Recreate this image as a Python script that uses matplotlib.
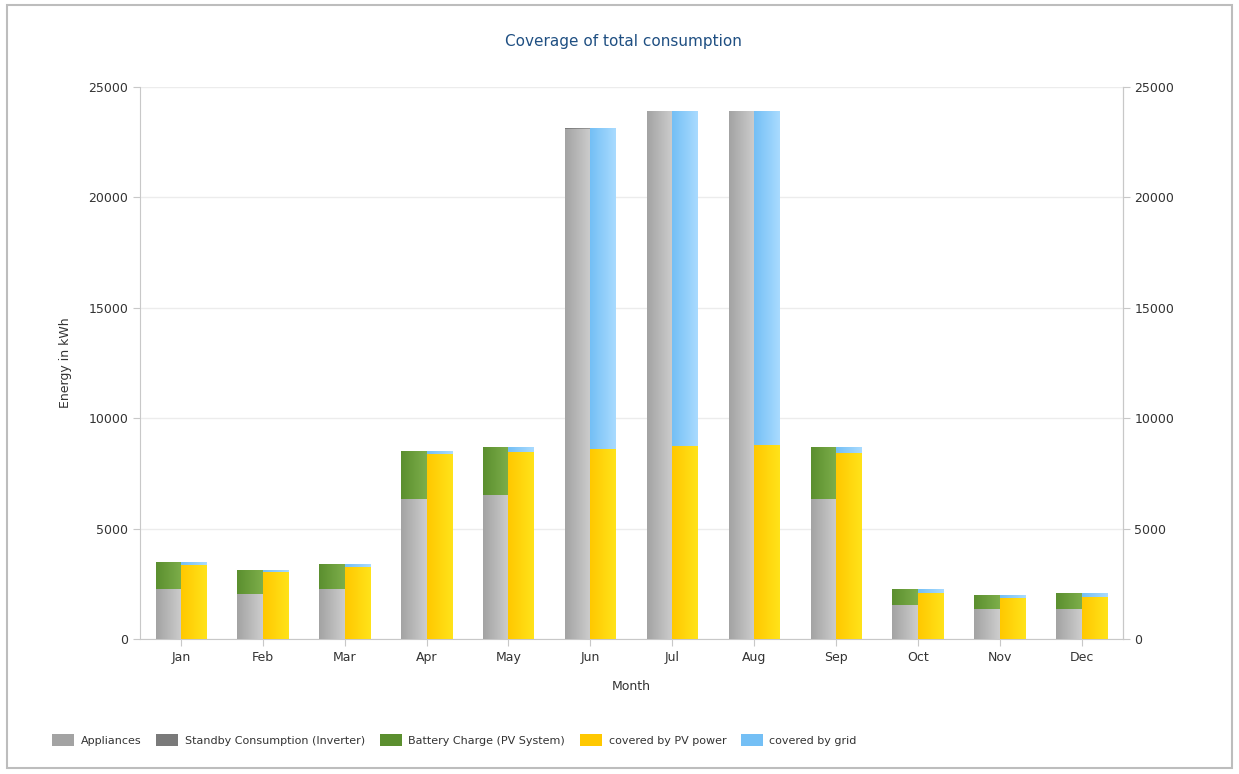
import numpy as np
import matplotlib
matplotlib.use("Agg")
import matplotlib.pyplot as plt
from matplotlib.patches import Rectangle, Patch
from matplotlib.colors import LinearSegmentedColormap

months = ["Jan", "Feb", "Mar", "Apr", "May", "Jun", "Jul", "Aug", "Sep", "Oct", "Nov", "Dec"]

# left bar: consumption
appliances = [2250, 2030, 2250, 6340, 6520, 23120, 23900, 23900, 6340, 1540, 1345, 1360]
standby = [10, 10, 10, 10, 10, 10, 10, 10, 10, 10, 10, 10]
battery_charge = [1240, 1085, 1140, 2180, 2180, 0, 0, 0, 2330, 700, 635, 710]

# right bar: coverage
covered_pv = [3350, 3020, 3275, 8380, 8485, 8605, 8740, 8790, 8410, 2070, 1845, 1915]
covered_grid = [150, 105, 125, 150, 225, 14525, 15170, 15120, 270, 180, 145, 165]

colors = {
    "Appliances": ("#a3a3a3", "#cdcdcd"),
    "Standby Consumption (Inverter)": ("#7a7a7a", "#9a9a9a"),
    "Battery Charge (PV System)": ("#5b8f2f", "#7dae4a"),
    "covered by PV power": ("#ffc800", "#ffe31a"),
    "covered by grid": ("#74bff5", "#a9dbff"),
}

fig = plt.figure(figsize=(12.39, 7.74), dpi=100)
ax = fig.add_axes([0.113, 0.1744, 0.793, 0.7132])

x = np.arange(len(months))
w = 0.31
grad = np.linspace(0, 1, 64).reshape(1, -1)


def grad_bar(ax, xs, heights, bottoms, name):
    bars = ax.bar(xs, heights, w, bottom=bottoms, color="none", edgecolor="none", zorder=3)
    c1, c2 = colors[name]
    cmap = LinearSegmentedColormap.from_list(name, [c1, c2])
    for b in bars:
        if b.get_height() <= 0:
            continue
        x0, y0 = b.get_x(), b.get_y()
        im = ax.imshow(grad, cmap=cmap, aspect="auto", zorder=3,
                       extent=[x0, x0 + b.get_width(), y0, y0 + b.get_height()])
        im.set_clip_path(b)


bottom = np.zeros(len(months))
for name, vals in [("Appliances", appliances), ("Standby Consumption (Inverter)", standby),
                   ("Battery Charge (PV System)", battery_charge)]:
    grad_bar(ax, x - w / 2, vals, bottom, name)
    bottom = bottom + np.array(vals)

bottom = np.zeros(len(months))
for name, vals in [("covered by PV power", covered_pv), ("covered by grid", covered_grid)]:
    grad_bar(ax, x + w / 2, vals, bottom, name)
    bottom = bottom + np.array(vals)

ax.set_xlim(-0.5, len(months) - 0.5)
ax.set_ylim(0, 25000)
ax.set_yticks(range(0, 25001, 5000))
ax.set_xticks(x)
ax.set_xticklabels(months)
ax.grid(axis="y", color="#ececec", linewidth=1, zorder=0)
ax.set_axisbelow(True)

ax.spines["top"].set_visible(False)
for s in ["left", "right", "bottom"]:
    ax.spines[s].set_color("#c8c8c8")
ax.tick_params(axis="both", colors="#c8c8c8", labelcolor="#333333", labelsize=9, length=5)

ax2 = ax.twinx()
ax2.set_ylim(0, 25000)
ax2.set_yticks(range(0, 25001, 5000))
ax2.tick_params(axis="y", colors="#c8c8c8", labelcolor="#333333", labelsize=9, length=5)
for s in ["top", "left", "bottom"]:
    ax2.spines[s].set_visible(False)
ax2.spines["right"].set_color("#c8c8c8")

ax.set_ylabel("Energy in kWh", fontsize=9, color="#333333", labelpad=12)
ax.set_xlabel("Month", fontsize=9, color="#333333", labelpad=12)
fig.text(0.503, 0.946, "Coverage of total consumption", ha="center", va="center",
         fontsize=11, color="#1f4f82")

handles = [Patch(facecolor=colors[n][0], edgecolor="none", label=n) for n in colors]
fig.legend(handles=handles, loc="center left", bbox_to_anchor=(0.034, 0.044), ncol=5,
           frameon=False, fontsize=8, handlelength=2.0, handleheight=1.2,
           handletextpad=0.6, columnspacing=1.3, labelcolor="#333333")

fig.patches.append(Rectangle((0.006, 0.008), 0.988, 0.985, transform=fig.transFigure,
                             fill=False, edgecolor="#bdbdbd", linewidth=1.5))

fig.savefig("out.png", dpi=100)
